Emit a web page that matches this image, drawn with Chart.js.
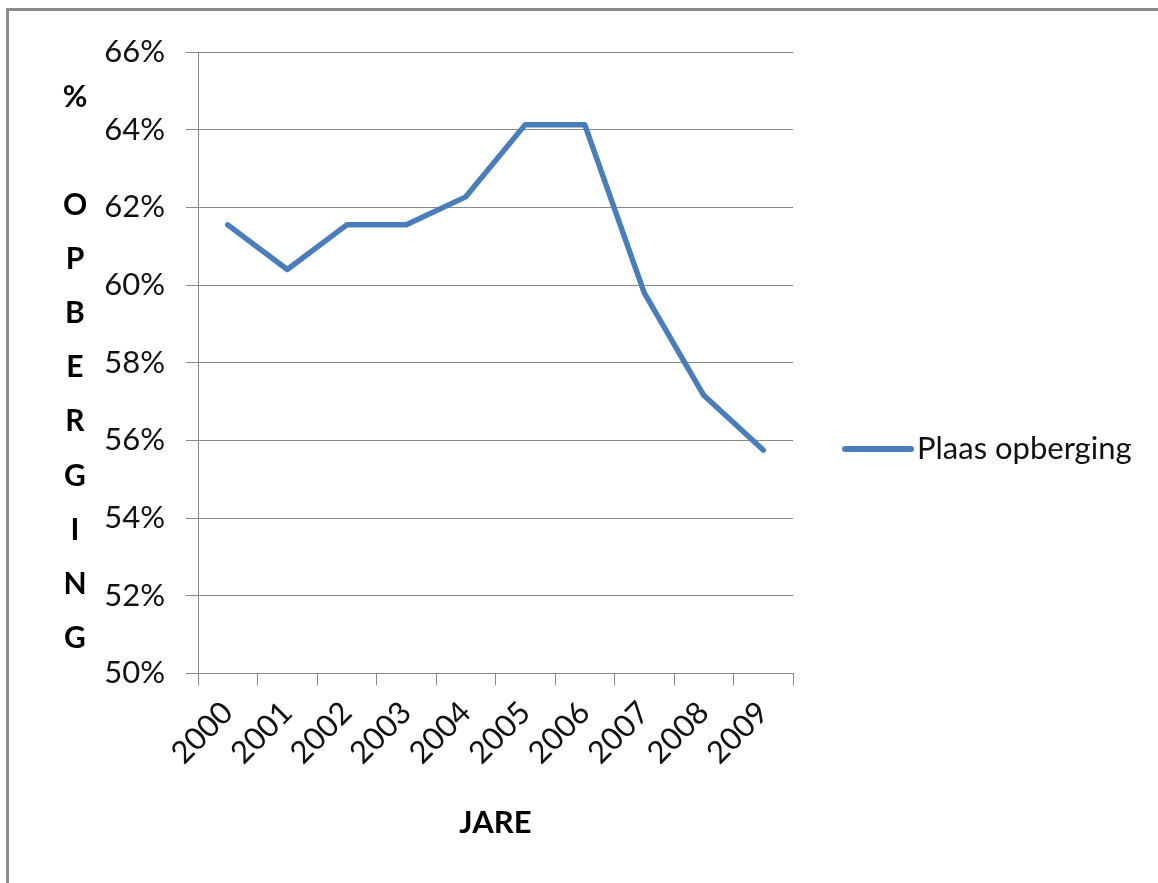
<!DOCTYPE html>
<html>
<head>
<meta charset="utf-8">
<script src="https://cdn.jsdelivr.net/npm/chart.js@4/dist/chart.umd.min.js"></script>
<style>
  html, body { margin: 0; padding: 0; background: #fff; overflow: hidden; }
  #wrap { position: relative; width: 1158px; height: 883px; }
  #frame { position: absolute; left: 6px; top: 8px; width: 1300px; height: 1000px;
           border-top: 3px solid #8a8a8a; border-left: 3px solid #8a8a8a; pointer-events: none; }
  canvas { position: absolute; left: 0; top: 0; }
</style>
</head>
<body>
<div id="wrap">
  <canvas id="c" width="1158" height="883"></canvas>
  <div id="frame"></div>
</div>
<script>
// Years on the category axis
const years = ['2000', '2001', '2002', '2003', '2004', '2005', '2006', '2007', '2008', '2009'];
// Share of on-farm storage, in percent
const storageShare = [61.55, 60.4, 61.55, 61.55, 62.27, 64.13, 64.13, 59.8, 57.16, 55.75];
const seriesName = 'Plaas opberging';
// Axis titles
const xTitle = 'JARE';
const yTitleLetters = ['%', '', 'O', 'P', 'B', 'E', 'R', 'G', 'I', 'N', 'G'];
// Value axis range
const yMin = 50, yMax = 66, yStep = 2;

const FONT = 'Lato, "Liberation Sans", sans-serif';
const GRID = '#888888';
const LINE = '#4a7ebb';

// Stacked, upright letters for the value axis title
const stackedTitle = {
  id: 'stackedTitle',
  afterDraw(chart) {
    const { ctx, chartArea } = chart;
    const step = 54.1;
    const mid = (chartArea.top + chartArea.bottom) / 2 + 5;
    const start = mid - step * (yTitleLetters.length - 1) / 2;
    ctx.save();
    ctx.fillStyle = '#000';
    ctx.font = 'bold 30px ' + FONT;
    ctx.textAlign = 'center';
    ctx.textBaseline = 'middle';
    yTitleLetters.forEach((ch, i) => {
      if (ch) ctx.fillText(ch, 75, start + i * step);
    });
    ctx.restore();
  }
};

// Legend entry to the right of the plot
const sideLegend = {
  id: 'sideLegend',
  afterDraw(chart) {
    const { ctx, chartArea } = chart;
    const ds = chart.data.datasets[0];
    const y = 449;
    const x0 = chartArea.right + 50;
    ctx.save();
    ctx.strokeStyle = ds.borderColor;
    ctx.lineWidth = 6;
    ctx.lineCap = 'round';
    ctx.beginPath();
    ctx.moveTo(x0 + 2, y);
    ctx.lineTo(x0 + 68, y);
    ctx.stroke();
    ctx.fillStyle = '#111';
    ctx.font = '31px ' + FONT;
    ctx.textAlign = 'left';
    ctx.textBaseline = 'middle';
    ctx.fillText(ds.label, x0 + 74, y);
    ctx.restore();
  }
};

new Chart(document.getElementById('c'), {
  type: 'line',
  data: {
    labels: years,
    datasets: [{
      label: seriesName,
      data: storageShare,
      borderColor: LINE,
      backgroundColor: LINE,
      borderWidth: 5.5,
      borderCapStyle: 'round',
      borderJoinStyle: 'round',
      pointRadius: 0,
      tension: 0,
      fill: false
    }]
  },
  options: {
    responsive: false,
    animation: false,
    devicePixelRatio: 1,
    layout: { padding: { left: 0, top: 52, right: 365, bottom: 41.6 } },
    plugins: { legend: { display: false }, tooltip: { enabled: false } },
    scales: {
      x: {
        type: 'category',
        offset: true,
        grid: { display: true, offset: true, drawOnChartArea: false, drawTicks: true,
                tickLength: 12, color: GRID, lineWidth: 1 },
        border: { display: true, color: GRID, width: 1 },
        ticks: { autoSkip: false, minRotation: 45, maxRotation: 45, padding: 9,
                 color: '#111', font: { family: FONT, size: 31 } },
        title: { display: true, text: xTitle, color: '#000', padding: 0,
                 font: { family: FONT, size: 31, weight: 'bold' } },
        afterFit(scale) { scale.height = 168; }
      },
      y: {
        min: yMin,
        max: yMax,
        grid: { color: GRID, lineWidth: 1, tickLength: 12, drawTicks: true },
        border: { display: true, color: GRID, width: 1 },
        ticks: { stepSize: yStep, padding: 21, color: '#111',
                 font: { family: FONT, size: 31 },
                 callback: v => v + '%' },
        afterFit(scale) { scale.width = 198; }
      }
    }
  },
  plugins: [stackedTitle, sideLegend]
});
</script>
</body>
</html>
